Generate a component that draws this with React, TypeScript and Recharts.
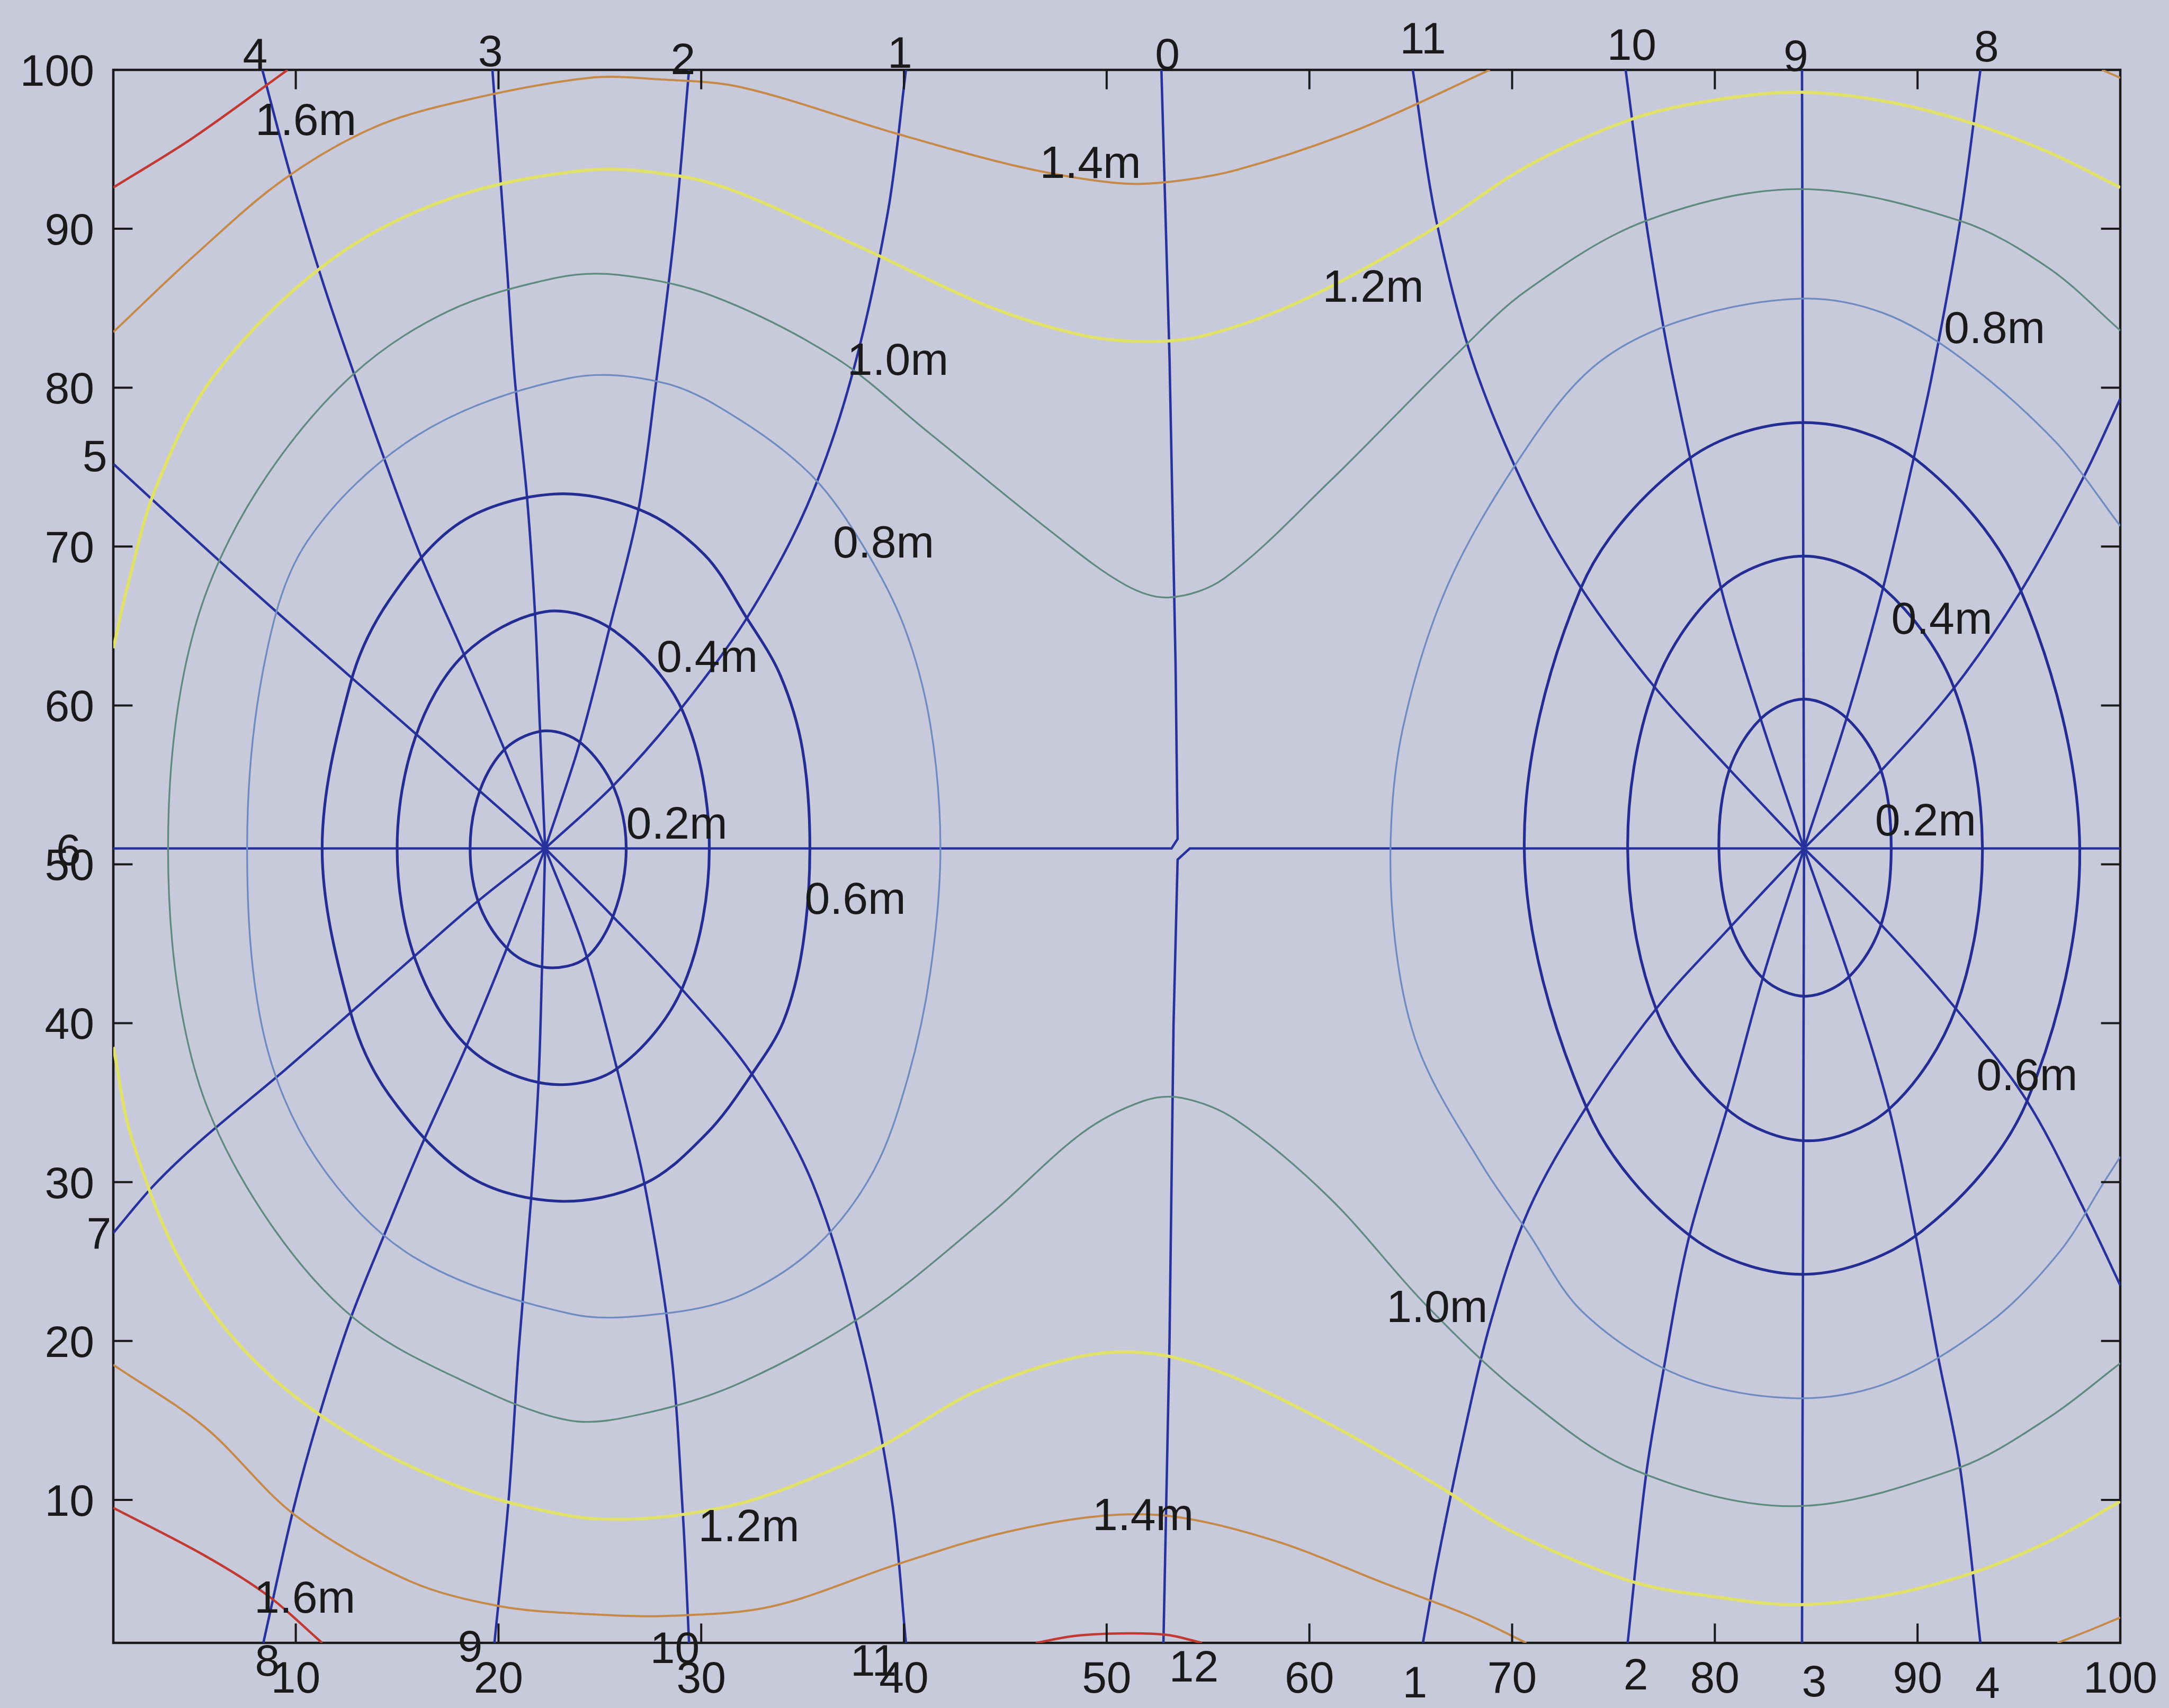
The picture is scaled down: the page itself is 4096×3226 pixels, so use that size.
import React from 'react';
import { LineChart, Line, XAxis, YAxis, ReferenceArea, ReferenceLine, ReferenceDot } from 'recharts';

type Pt = [number, number];

const FONT = '"Liberation Sans", Arial, Helvetica, sans-serif';
const INK = '#1a1a1a';
const PAPER = '#c9c9dc';

// model grid runs 1..100 both ways
const xTicks = [10, 20, 30, 40, 50, 60, 70, 80, 90, 100];
const yTicks = [10, 20, 30, 40, 50, 60, 70, 80, 90, 100];
const innerTicks = [10, 20, 30, 40, 50, 60, 70, 80, 90];

// ---- co-range lines (tidal amplitude, m) ----
// rings round the western amphidrome
const rangeW02: Pt[] = [[26.3, 51], [25.7, 54.8], [24.1, 57.6], [22.3, 58.4], [20.4, 57.35], [19.1, 54.7], [18.6, 51], [19.1, 47.3], [20.6, 44.5], [22.4, 43.5], [24.3, 44.1], [25.7, 46.9]];
const rangeW04: Pt[] = [[30.4, 51], [29.1, 59.6], [25.7, 64.7], [22.3, 65.9], [18.3, 63.2], [15.9, 58.0], [15.0, 51], [15.9, 44.0], [18.5, 38.5], [22.3, 36.2], [25.8, 37.1], [29.1, 42.3]];
const rangeW06: Pt[] = [[35.36, 51], [35.0, 57.2], [33.9, 61.9], [32.2, 65.6], [30.15, 69.5], [27.0, 72.3], [22.7, 73.3], [18.1, 71.5], [14.6, 66.6], [12.7, 61.4], [11.3, 51], [12.7, 40.7], [14.6, 35.5], [18.5, 30.4], [22.9, 28.8], [27.2, 29.9], [30.3, 33.1], [32.5, 36.8], [34.05, 40.1], [35.0, 44.8]];
const rangeW08: Pt[] = [[41.8, 51], [41.3, 58.8], [40.0, 65.0], [37.96, 70.1], [35.5, 74.4], [32.0, 77.9], [28.3, 80.25], [23.5, 80.6], [16.0, 77.0], [10.5, 70.2], [8.4, 62.3], [7.6, 51], [8.4, 39.4], [11.0, 31.5], [15.8, 25.3], [23.6, 21.7], [28.3, 21.75], [32.0, 22.9], [35.7, 26.0], [38.5, 30.7], [40.2, 36.6], [41.3, 43.2]];
// rings round the eastern amphidrome
const rangeE02: Pt[] = [[88.7, 51], [88.2, 55.9], [86.5, 59.2], [84.4, 60.4], [82.3, 59.2], [80.7, 55.9], [80.2, 51], [80.8, 46.1], [82.4, 42.8], [84.5, 41.7], [86.6, 42.9], [88.2, 46.2]];
const rangeE04: Pt[] = [[93.2, 51], [91.8, 61.1], [88.3, 67.4], [84.4, 69.4], [80.3, 67.4], [77.0, 61.1], [75.7, 51], [77.1, 40.9], [80.6, 34.6], [84.6, 32.6], [88.6, 34.6], [91.9, 41.0]];
const rangeE06: Pt[] = [[98.0, 51], [95.1, 67.2], [89.9, 75.5], [84.4, 77.8], [78.7, 75.5], [73.4, 67.4], [70.6, 51], [73.7, 34.6], [78.9, 26.5], [84.5, 24.2], [90.2, 26.9], [95.4, 35.1]];
const rangeE08: Pt[] = [[100, 71.3], [96.8, 76.6], [92.1, 81.9], [88.3, 84.7], [84.2, 85.6], [78.3, 84.2], [74.0, 81.3], [70.5, 75.8], [66.8, 67.5], [64.6, 58.5], [64.0, 51], [64.4, 43.5], [65.6, 37.7], [68.6, 30.9], [70.7, 27.0], [73.5, 21.8], [78.3, 17.8], [83.9, 16.4], [88.6, 17.4], [93.6, 21.2], [97.0, 25.6], [99.2, 30], [100, 31.6]];
// outer lines run the length of the channel
const range10: Pt[] = [[100, 83.6], [96.5, 87.5], [92.1, 90.5], [84.2, 92.5], [76.6, 90.5], [70.7, 86.1], [67.1, 81.9], [61.0, 74.1], [55.8, 68.0], [53.1, 66.8], [50.9, 67.6], [47.3, 70.9], [41.1, 77.3], [36.6, 81.9], [30.5, 85.8], [25.9, 87.1], [22.8, 86.9], [17.5, 84.8], [12.8, 80.8], [8.6, 74.5], [5.7, 67.5], [4.2, 60], [3.7, 51], [4.2, 42], [5.7, 34.5], [8.9, 27.1], [12.9, 21.4], [17.9, 17.7], [23.5, 15.0], [27.4, 15.5], [32.0, 17.4], [38.1, 21.7], [44.2, 27.9], [48.8, 33.1], [51.8, 35.1], [53.7, 35.3], [56.4, 33.9], [61.0, 29.0], [65.8, 22.2], [70.5, 16.6], [76.0, 11.9], [83.9, 9.6], [92.0, 12.0], [96.5, 15.2], [100, 18.6]];
const range12N: Pt[] = [[1, 63.6], [1.7, 67.5], [3.1, 73.7], [6.0, 80.8], [11.6, 87.9], [17.6, 91.9], [24.5, 93.7], [29.0, 93.3], [32.0, 92.2], [38.1, 88.7], [44.2, 85.1], [48.8, 83.3], [52.1, 82.9], [54.9, 83.3], [59.5, 85.4], [65.6, 89.6], [70.7, 93.9], [75.9, 96.9], [80.0, 98.1], [84.2, 98.6], [88.5, 98.0], [92.8, 96.6], [96.5, 94.8], [100, 92.6]];
const range12S: Pt[] = [[1, 38.5], [1.9, 32.8], [4.4, 24.8], [7.7, 19.1], [12.2, 14.5], [17.9, 10.9], [23.5, 9.0], [26.8, 8.8], [30.6, 9.4], [33.5, 10.4], [38.5, 13.1], [43.5, 16.8], [48.6, 19.0], [52.3, 19.2], [56.1, 17.8], [61.1, 14.7], [66.2, 11.0], [70.0, 8.0], [75.8, 4.9], [80.0, 3.9], [84.1, 3.4], [88.5, 4.0], [92.7, 5.4], [96.5, 7.4], [100, 9.9]];
const range14N: Pt[] = [[1, 83.5], [4.9, 88.2], [9.4, 93.1], [13.9, 96.4], [18.4, 98.1], [24.5, 99.5], [28.0, 99.4], [32.0, 98.9], [39.6, 96.0], [45.7, 93.9], [50.3, 92.9], [52.7, 92.9], [56.4, 93.7], [62.5, 96.3], [68.9, 100]];
const range14NE: Pt[] = [[99.1, 100], [100, 99.5]];
const range14S: Pt[] = [[1, 18.5], [5.5, 14.6], [10.0, 9.0], [15.6, 4.9], [20.1, 3.3], [24.6, 2.8], [28.4, 2.7], [33.5, 3.3], [39.8, 6.0], [44.8, 7.9], [49.8, 9.0], [53.6, 8.9], [58.6, 7.3], [63.6, 4.8], [67.9, 2.7], [70.7, 1]];
const range14SE: Pt[] = [[96.9, 1], [98.5, 1.8], [100, 2.6]];
const range16NW: Pt[] = [[1, 92.6], [4.9, 95.7], [9.6, 100]];
const range16SW: Pt[] = [[1, 9.5], [5.5, 6.5], [8.6, 4.0], [11.3, 1]];
const range16S: Pt[] = [[46.5, 1], [48.5, 1.45], [51.0, 1.6], [53.0, 1.5], [54.7, 1]];

const coRange = [
  { id: 'w02', level: 0.2, closed: true, pts: rangeW02 },
  { id: 'w04', level: 0.4, closed: true, pts: rangeW04 },
  { id: 'w06', level: 0.6, closed: true, pts: rangeW06 },
  { id: 'w08', level: 0.8, closed: true, pts: rangeW08 },
  { id: 'e02', level: 0.2, closed: true, pts: rangeE02 },
  { id: 'e04', level: 0.4, closed: true, pts: rangeE04 },
  { id: 'e06', level: 0.6, closed: true, pts: rangeE06 },
  { id: 'e08', level: 0.8, closed: false, pts: rangeE08 },
  { id: 'c10', level: 1.0, closed: false, pts: range10 },
  { id: 'n12', level: 1.2, closed: false, pts: range12N },
  { id: 's12', level: 1.2, closed: false, pts: range12S },
  { id: 'n14', level: 1.4, closed: false, pts: range14N },
  { id: 'ne14', level: 1.4, closed: false, pts: range14NE },
  { id: 's14', level: 1.4, closed: false, pts: range14S },
  { id: 'se14', level: 1.4, closed: false, pts: range14SE },
  { id: 'nw16', level: 1.6, closed: false, pts: range16NW },
  { id: 'sw16', level: 1.6, closed: false, pts: range16SW },
  { id: 's16', level: 1.6, closed: false, pts: range16S },
];

// ---- co-tidal lines (phase, lunar hours) ----
const phaseW0: Pt[] = [[22.3, 51], [53.2, 51], [53.5, 51.6], [53.4, 62.5], [53.1, 81.9], [52.7, 100]];
const phaseW1: Pt[] = [[22.3, 51], [25.7, 55.0], [29.0, 59.8], [32.3, 65.6], [35.2, 72.5], [37.4, 80.6], [39.2, 91.0], [40.1, 100]];
const phaseW2: Pt[] = [[22.3, 51], [24.0, 57.6], [25.5, 65.0], [26.9, 72.3], [27.8, 80.6], [28.7, 90], [29.4, 100]];
const phaseW3: Pt[] = [[22.3, 51], [22.05, 58.4], [21.8, 65.8], [21.4, 73.2], [20.8, 80.6], [20.4, 87.9], [19.7, 100]];
const phaseW4: Pt[] = [[22.3, 51], [20.3, 57.2], [18.2, 63.5], [16.2, 69.3], [14.4, 75.4], [11.6, 85.6], [9.8, 93.1], [8.35, 100]];
const phaseW5: Pt[] = [[22.3, 51], [19.0, 54.7], [16.2, 57.9], [12.7, 61.8], [7.1, 68.1], [1, 75.2]];
const phaseW6: Pt[] = [[22.3, 51], [1, 51]];
const phaseW7: Pt[] = [[22.3, 51], [19.0, 47.7], [16.2, 44.6], [9.5, 37.1], [5.3, 32.6], [3.0, 29.8], [1, 26.8]];
const phaseW8: Pt[] = [[22.3, 51], [20.5, 45.0], [18.4, 38.5], [16.2, 32.3], [14.5, 27.1], [12.7, 21.4], [11.2, 15.5], [9.9, 9.5], [8.4, 1]];
const phaseW9: Pt[] = [[22.3, 51], [22.15, 43.6], [21.97, 36.2], [21.6, 28.8], [21.0, 19.5], [20.5, 10], [19.8, 1]];
const phaseW10: Pt[] = [[22.3, 51], [24.2, 44.8], [25.8, 37.35], [27.2, 29.9], [28.5, 19.5], [29.1, 9], [29.4, 1]];
const phaseW11: Pt[] = [[22.3, 51], [25.5, 46.9], [29.0, 42.2], [32.5, 36.8], [35.5, 29.9], [37.9, 19.8], [39.4, 10], [40.1, 1]];

const phaseE0: Pt[] = [[84.4, 51], [54.1, 51], [53.5, 50.3], [53.3, 40], [53.1, 20], [52.8, 1]];
const phaseE1: Pt[] = [[84.4, 51], [80.8, 46.1], [77.1, 40.9], [73.6, 34.6], [70.8, 28.2], [68.9, 21.0], [67.6, 14.0], [66.3, 6.0], [65.6, 1]];
const phaseE2: Pt[] = [[84.4, 51], [82.4, 43.0], [80.6, 34.6], [78.7, 26.4], [77.5, 18.4], [76.6, 11.5], [75.7, 1]];
const phaseE3: Pt[] = [[84.4, 51], [84.35, 26], [84.3, 1]];
const phaseE4: Pt[] = [[84.4, 51], [86.6, 43.0], [88.6, 34.6], [89.9, 26.7], [91.0, 19.1], [92.1, 12], [93.1, 1]];
const phaseE5: Pt[] = [[84.4, 51], [88.2, 46.2], [91.9, 40.9], [95.4, 35.1], [98.4, 27.8], [100, 23.5]];
const phaseE6: Pt[] = [[84.4, 51], [100, 51]];
const phaseE7: Pt[] = [[84.4, 51], [88.2, 55.9], [91.8, 61.1], [95.1, 67.2], [98.2, 74.4], [100, 79.3]];
const phaseE8: Pt[] = [[84.4, 51], [86.5, 59.2], [88.3, 67.4], [89.8, 75.5], [90.7, 80.7], [92.1, 90.5], [93.1, 100]];
const phaseE9: Pt[] = [[84.4, 51], [84.35, 75], [84.3, 100]];
const phaseE10: Pt[] = [[84.4, 51], [82.3, 59.0], [80.3, 67.4], [77.9, 80.9], [76.6, 90.5], [75.6, 100]];
const phaseE11: Pt[] = [[84.4, 51], [80.7, 56.0], [77.0, 61.2], [73.4, 67.4], [70.7, 73.5], [68.0, 81.9], [66.2, 90.9], [65.1, 100]];

const coTidal: { id: string; pts: Pt[]; straight?: boolean }[] = [
  { id: 'w0', pts: phaseW0, straight: true }, { id: 'w1', pts: phaseW1 }, { id: 'w2', pts: phaseW2 },
  { id: 'w3', pts: phaseW3 }, { id: 'w4', pts: phaseW4 }, { id: 'w5', pts: phaseW5 },
  { id: 'w6', pts: phaseW6, straight: true }, { id: 'w7', pts: phaseW7 }, { id: 'w8', pts: phaseW8 },
  { id: 'w9', pts: phaseW9 }, { id: 'w10', pts: phaseW10 }, { id: 'w11', pts: phaseW11 },
  { id: 'e0', pts: phaseE0, straight: true }, { id: 'e1', pts: phaseE1 }, { id: 'e2', pts: phaseE2 },
  { id: 'e3', pts: phaseE3 }, { id: 'e4', pts: phaseE4 }, { id: 'e5', pts: phaseE5 },
  { id: 'e6', pts: phaseE6, straight: true }, { id: 'e7', pts: phaseE7 }, { id: 'e8', pts: phaseE8 },
  { id: 'e9', pts: phaseE9 }, { id: 'e10', pts: phaseE10 }, { id: 'e11', pts: phaseE11 },
];

// hour labels where the co-tidal lines leave the box
const hourLabelsTop: [string, number, number][] = [['4', 8.0, 101.0], ['3', 19.6, 101.2], ['2', 29.1, 100.7], ['1', 39.8, 101.1], ['0', 53.0, 101.0], ['11', 65.6, 102.0], ['10', 75.9, 101.6], ['9', 84.0, 100.9], ['8', 93.4, 101.5]];
const hourLabelsLeft: [string, number, number][] = [['5', 0.7, 75.7], ['6', -0.6, 50.9], ['7', 0.9, 26.8]];
const hourLabelsBottom: [string, number, number][] = [['8', 8.6, -0.1], ['9', 18.6, 0.8], ['10', 28.7, 0.7], ['11', 38.5, -0.1], ['12', 54.3, -0.45], ['1', 65.2, -1.45], ['2', 76.1, -0.95], ['3', 84.9, -1.4], ['4', 93.45, -1.5]];

// amplitude labels (left edge of text)
const rangeLabels: [string, number, number][] = [
  ['1.6m', 8.0, 96.9], ['1.4m', 46.7, 94.2], ['1.2m', 60.65, 86.4], ['1.0m', 37.2, 81.8],
  ['0.8m', 36.5, 70.3], ['0.4m', 27.8, 63.1], ['0.2m', 26.3, 52.6], ['0.6m', 35.1, 47.9],
  ['0.8m', 91.3, 83.8], ['0.4m', 88.7, 65.5], ['0.2m', 87.9, 52.8], ['0.6m', 92.9, 36.8],
  ['1.0m', 63.8, 22.2], ['1.2m', 29.85, 8.4], ['1.4m', 49.3, 9.1], ['1.6m', 7.95, 3.9],
];

const levelColor: Record<string, string> = {
  '0.2': '#242d92', '0.4': '#242d92', '0.6': '#242d92', '0.8': '#6f8cc0',
  '1': '#5e8a80', '1.2': '#dfe16a', '1.4': '#c58a48', '1.6': '#c13a32',
};
const levelWidth: Record<string, number> = {
  '0.2': 5.2, '0.4': 5.2, '0.6': 5.2, '0.8': 3.3, '1': 3.3, '1.2': 6, '1.4': 4, '1.6': 4.5,
};
const PHASE_COLOR = '#27329c';

const toRows = (pts: Pt[]) => pts.map(([x, y]) => ({ x, y }));

// Catmull-Rom style spline with chord-scaled tangents, open or closed
function spline(closed: boolean) {
  return (context: any) => {
    let pts: number[][] = [];
    return {
      areaStart() {},
      areaEnd() {},
      lineStart() { pts = []; },
      point(x: number, y: number) { pts.push([+x, +y]); },
      lineEnd() {
        const n = pts.length;
        if (!n) return;
        const at = (i: number) => pts[closed ? (i + n) % n : Math.min(Math.max(i, 0), n - 1)];
        const dist = (a: number[], b: number[]) => Math.hypot(b[0] - a[0], b[1] - a[1]) || 1e-6;
        const tangent = (i: number) => {
          const a = at(i - 1), b = at(i + 1), c = at(i);
          const d = dist(a, c) + dist(c, b);
          return [(b[0] - a[0]) / d, (b[1] - a[1]) / d];
        };
        context.moveTo(pts[0][0], pts[0][1]);
        const segs = closed ? n : n - 1;
        for (let i = 0; i < segs; i++) {
          const p = at(i), q = at(i + 1), len = dist(p, q) / 3;
          const tp = tangent(i), tq = tangent(i + 1);
          context.bezierCurveTo(p[0] + tp[0] * len, p[1] + tp[1] * len, q[0] - tq[0] * len, q[1] - tq[1] * len, q[0], q[1]);
        }
        if (closed) context.closePath();
      },
    };
  };
}
const openCurve = spline(false);
const closedCurve = spline(true);

const textAt = (text: string, anchor: 'start' | 'middle' | 'end', size: number) => (p: any) => (
  <text x={p.cx} y={p.cy} textAnchor={anchor} dominantBaseline="central" fontSize={size} fontFamily={FONT} fill={INK}>
    {text}
  </text>
);

const TICK_X = 0.95; // inward tick length, x units
const TICK_Y = 1.22; // inward tick length, y units

export default function App() {
  const tickStyle = { fontSize: 84, fill: INK, fontFamily: FONT };
  return (
    <div style={{ width: 4096, height: 3226, background: PAPER, overflow: 'hidden' }}>
      <style>{`html,body{margin:0;padding:0;background:${PAPER};}`}</style>
      <LineChart width={4096} height={3226} margin={{ top: 132, right: 92, bottom: 23, left: 114 }}>
        <XAxis
          type="number"
          dataKey="x"
          domain={[1, 100]}
          ticks={xTicks}
          interval={0}
          allowDataOverflow
          axisLine={false}
          tickLine={false}
          tickSize={0}
          tickMargin={34}
          height={100}
          tick={tickStyle}
        />
        <YAxis
          type="number"
          dataKey="y"
          domain={[1, 100]}
          ticks={yTicks}
          interval={0}
          allowDataOverflow
          axisLine={false}
          tickLine={false}
          tickSize={0}
          tickMargin={36}
          width={100}
          tick={tickStyle}
        />

        {coTidal.map((s) => (
          <Line
            key={`ph-${s.id}`}
            data={toRows(s.pts)}
            dataKey="y"
            type={(s.straight ? 'linear' : openCurve) as any}
            stroke={PHASE_COLOR}
            strokeWidth={4.6}
            dot={false}
            activeDot={false}
            legendType="none"
            isAnimationActive={false}
          />
        ))}

        {coRange.map((s) => (
          <Line
            key={`rg-${s.id}`}
            data={toRows(s.pts)}
            dataKey="y"
            type={(s.closed ? closedCurve : openCurve) as any}
            stroke={levelColor[String(s.level)]}
            strokeWidth={levelWidth[String(s.level)]}
            dot={false}
            activeDot={false}
            legendType="none"
            isAnimationActive={false}
          />
        ))}

        {/* box and inward ticks */}
        <ReferenceArea x1={1} x2={100} y1={1} y2={100} fill="none" stroke={INK} strokeWidth={4.5} ifOverflow="visible" />
        {innerTicks.map((v) => (
          <ReferenceLine key={`tb${v}`} segment={[{ x: v, y: 1 }, { x: v, y: 1 + TICK_Y }]} stroke={INK} strokeWidth={4} ifOverflow="visible" />
        ))}
        {innerTicks.map((v) => (
          <ReferenceLine key={`tt${v}`} segment={[{ x: v, y: 100 }, { x: v, y: 100 - TICK_Y }]} stroke={INK} strokeWidth={4} ifOverflow="visible" />
        ))}
        {innerTicks.map((v) => (
          <ReferenceLine key={`tl${v}`} segment={[{ x: 1, y: v }, { x: 1 + TICK_X, y: v }]} stroke={INK} strokeWidth={4} ifOverflow="visible" />
        ))}
        {innerTicks.map((v) => (
          <ReferenceLine key={`tr${v}`} segment={[{ x: 100, y: v }, { x: 100 - TICK_X, y: v }]} stroke={INK} strokeWidth={4} ifOverflow="visible" />
        ))}

        {hourLabelsTop.map(([t, x, y], i) => (
          <ReferenceDot key={`ht${i}`} x={x} y={y} r={0} ifOverflow="visible" shape={textAt(t, 'middle', 84)} />
        ))}
        {hourLabelsLeft.map(([t, x, y], i) => (
          <ReferenceDot key={`hl${i}`} x={x} y={y} r={0} ifOverflow="visible" shape={textAt(t, 'end', 84)} />
        ))}
        {hourLabelsBottom.map(([t, x, y], i) => (
          <ReferenceDot key={`hb${i}`} x={x} y={y} r={0} ifOverflow="visible" shape={textAt(t, 'middle', 84)} />
        ))}
        {rangeLabels.map(([t, x, y], i) => (
          <ReferenceDot key={`rl${i}`} x={x} y={y} r={0} ifOverflow="visible" shape={textAt(t, 'start', 86)} />
        ))}
      </LineChart>
    </div>
  );
}
